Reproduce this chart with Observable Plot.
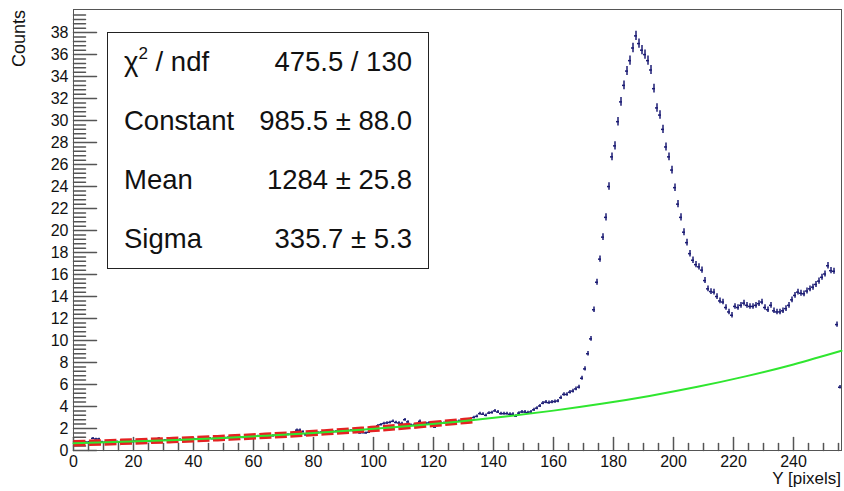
<!DOCTYPE html>
<html>
<head>
<meta charset="utf-8">
<script src="https://cdn.jsdelivr.net/npm/d3@7"></script>
<script src="https://cdn.jsdelivr.net/npm/@observablehq/plot@0.6"></script>
<style>
  html, body { margin: 0; padding: 0; background: #fff; }
  #wrap { position: relative; width: 844px; height: 491px; font-family: "Liberation Sans", Arial, sans-serif; }
  #stats { position: absolute; left: 107px; top: 32px; width: 320px; height: 235px; border: 1px solid #222;
           display: flex; flex-direction: column; font-size: 27.5px; color: #111; background: #fff; }
  #stats .row { flex: 1; display: flex; align-items: center; justify-content: space-between; padding: 0 16px 0 16px; }
  #ylab { position: absolute; left: 9px; top: 10px; font-size: 18px; writing-mode: vertical-rl; transform: rotate(180deg); color: #111; }
  #xlab { position: absolute; right: 3px; top: 469px; font-size: 17px; color: #111; }
</style>
</head>
<body>
<div id="wrap"></div>
<script>
// Histogram bin contents (256 bins of width 1, Y pixel 0..256)
const counts = [
  0.70, 0.72, 0.68, 0.75, 0.73, 0.80, 1.10, 1.05, 1.05, 0.78,
  0.74, 0.77, 0.72, 0.76, 0.80, 0.75, 0.79, 0.82, 0.77, 0.80,
  0.83, 0.80, 0.86, 0.84, 0.88, 0.82, 0.87, 0.90, 1.10, 0.88,
  0.93, 0.95, 0.90, 0.97, 0.95, 0.99, 0.96, 1.02, 0.98, 1.00,
  1.03, 1.05, 1.02, 1.08, 1.06, 1.10, 1.07, 1.12, 1.09, 1.13,
  1.14, 1.17, 1.15, 1.20, 1.18, 1.22, 1.19, 1.35, 1.26, 1.25,
  1.27, 1.30, 1.29, 1.33, 1.32, 1.36, 1.34, 1.38, 1.37, 1.40,
  1.42, 1.45, 1.47, 1.60, 1.85, 1.85, 1.70, 1.42, 1.45, 1.50,
  1.60, 1.62, 1.64, 1.63, 1.68, 1.66, 1.70, 1.72, 1.71, 1.76,
  1.78, 1.80, 1.82, 1.79, 1.65, 1.60, 1.62, 1.60, 1.66, 1.90,
  2.00, 2.25, 2.35, 2.45, 2.50, 2.55, 2.65, 2.55, 2.50, 2.45,
  2.80, 2.60, 2.30, 2.30, 2.35, 2.65, 2.40, 2.45, 2.50, 2.30,
  2.12, 2.40, 2.50, 2.48, 2.55, 2.60, 2.58, 2.62, 2.65, 2.70,
  2.72, 2.78, 2.85, 3.00, 3.10, 3.35, 3.30, 3.20, 3.40, 3.45,
  3.60, 3.50, 3.35, 3.35, 3.35, 3.30, 3.30, 3.12, 3.40, 3.50,
  3.50, 3.45, 3.50, 3.70, 3.85, 4.05, 4.30, 4.40, 4.35, 4.40,
  4.45, 4.50, 4.80, 5.10, 5.10, 5.30, 5.40, 5.60, 5.76, 6.57,
  7.42, 8.80, 10.15, 12.80, 15.30, 17.40, 19.40, 21.20, 24.00, 26.70,
  27.70, 29.90, 31.70, 33.20, 34.50, 35.45, 36.60, 37.70, 37.00, 36.40,
  36.00, 35.45, 34.60, 32.90, 31.15, 30.50, 29.20, 27.60, 26.70, 25.50,
  23.90, 22.40, 21.20, 19.85, 18.90, 17.90, 17.30, 16.90, 16.70, 16.40,
  15.45, 14.70, 14.45, 14.40, 14.00, 13.60, 13.50, 13.00, 12.60, 12.30,
  13.10, 13.00, 13.20, 13.40, 13.20, 13.10, 13.10, 13.20, 13.35, 13.50,
  13.00, 12.80, 13.20, 12.70, 12.60, 12.60, 12.70, 12.90, 13.20, 13.70,
  14.10, 14.40, 14.30, 14.25, 14.50, 14.70, 14.85, 15.10, 15.40, 15.75,
  16.05, 16.80, 16.35, 16.30, 11.45, 5.75
];

// Gaussian fit curve, sampled (full range, green)
const fitX = [0, 16, 32, 48, 64, 80, 96, 112, 128, 144, 160, 176, 192, 208, 224, 240, 256];
const fitY = [0.656, 0.786, 0.940, 1.122, 1.336, 1.587, 1.880, 2.224, 2.623, 3.087, 3.626, 4.247, 4.965, 5.792, 6.741, 7.826, 9.065];
// Fit range part (red dashed)
const fitRangeX = [0, 16, 32, 48, 64, 80, 96, 112, 128, 133];
const fitRangeY = [0.656, 0.786, 0.940, 1.122, 1.336, 1.587, 1.880, 2.224, 2.623, 2.760];

// Axis ticks
const xMajor = [0, 20, 40, 60, 80, 100, 120, 140, 160, 180, 200, 220, 240];
const yMajor = [0, 2, 4, 6, 8, 10, 12, 14, 16, 18, 20, 22, 24, 26, 28, 30, 32, 34, 36, 38];
const xMinorStep = 5;
const yMinorStep = 0.4;

// Stats box
const statLabels = ["χ<sup style='font-size:0.62em;position:relative;top:-0.15em'>2</sup> / ndf", "Constant", "Mean", "Sigma"];
const statValues = ["475.5 / 130", "985.5 ± 88.0", "1284 ± 25.8", "335.7 ± 5.3"];

const xTitle = "Y [pixels]";
const yTitle = "Counts";

const errScale = 0.07;
const bins = counts.map((v, i) => ({x0: i, x1: i + 1, xc: i + 0.5, v, lo: v - errScale * Math.sqrt(v), hi: v + errScale * Math.sqrt(v)}));
const green = fitX.map((x, i) => ({x, y: fitY[i]}));
const red = fitRangeX.map((x, i) => ({x, y: fitRangeY[i]}));

const xMinor = d3.range(0, 256 + 0.001, xMinorStep).filter(d => d % 20 !== 0);
const yMinor = d3.range(0, 40.05, yMinorStep).map(d => +d.toFixed(2)).filter(d => Math.abs(d / 2 - Math.round(d / 2)) > 1e-6);

const tickShape = {draw(ctx, l) { ctx.moveTo(0, 0); ctx.lineTo(0, -l); }};
const axisColor = "#555";
const navy = "#1c1c74";

const chart = Plot.plot({
  width: 844, height: 491,
  marginLeft: 73, marginRight: 3, marginTop: 9, marginBottom: 41,
  x: {domain: [0, 256]},
  y: {domain: [0, 40.1]},
  style: {fontFamily: "'Liberation Sans', Arial, sans-serif", fontSize: "16px", background: "white", color: "#111"},
  marks: [
    Plot.axisY(yMajor, {tickSize: 0, tickPadding: 5, label: null, fontSize: 16}),
    Plot.axisX(xMajor, {tickSize: 0, tickPadding: 5, label: null, fontSize: 16}),
    Plot.vectorY(yMajor, {y: d => d, frameAnchor: "left", rotate: 90, length: 23, anchor: "start", shape: tickShape, stroke: axisColor}),
    Plot.vectorY(yMinor, {y: d => d, frameAnchor: "left", rotate: 90, length: 12, anchor: "start", shape: tickShape, stroke: axisColor}),
    Plot.vectorX(xMajor, {x: d => d, frameAnchor: "bottom", rotate: 0, length: 13, anchor: "start", shape: tickShape, stroke: axisColor}),
    Plot.vectorX(xMinor, {x: d => d, frameAnchor: "bottom", rotate: 0, length: 7, anchor: "start", shape: tickShape, stroke: axisColor}),
    Plot.frame({stroke: axisColor}),
    Plot.ruleX(bins, {x: "xc", y1: "lo", y2: "hi", stroke: navy, strokeWidth: 1.5}),
    Plot.ruleY(bins, {y: "v", x1: "x0", x2: "x1", stroke: navy, strokeWidth: 1.5}),
    Plot.line(red, {x: "x", y: "y", curve: "natural", stroke: "#e52222", strokeWidth: 6.5, strokeDasharray: "12,3.5", strokeLinecap: "butt"}),
    Plot.line(green, {x: "x", y: "y", curve: "natural", stroke: "#2fe62f", strokeWidth: 2})
  ]
});

// enlarge all tick label text in the svg
chart.querySelectorAll("g").forEach(g => { if (g.querySelector("text")) { g.setAttribute("font-size", "16"); g.style.fontSize = "16px"; } });
chart.querySelectorAll("text").forEach(t => { t.setAttribute("font-size", "16"); t.style.fontSize = "16px"; });

const wrap = document.getElementById("wrap");
wrap.appendChild(chart);

const stats = document.createElement("div");
stats.id = "stats";
statLabels.forEach((lab, i) => {
  const row = document.createElement("div");
  row.className = "row";
  const a = document.createElement("span"); a.innerHTML = lab;
  const b = document.createElement("span"); b.textContent = statValues[i];
  row.appendChild(a); row.appendChild(b);
  stats.appendChild(row);
});
wrap.appendChild(stats);

const yl = document.createElement("div"); yl.id = "ylab"; yl.textContent = yTitle; wrap.appendChild(yl);
const xl = document.createElement("div"); xl.id = "xlab"; xl.textContent = xTitle; wrap.appendChild(xl);
</script>
</body>
</html>
